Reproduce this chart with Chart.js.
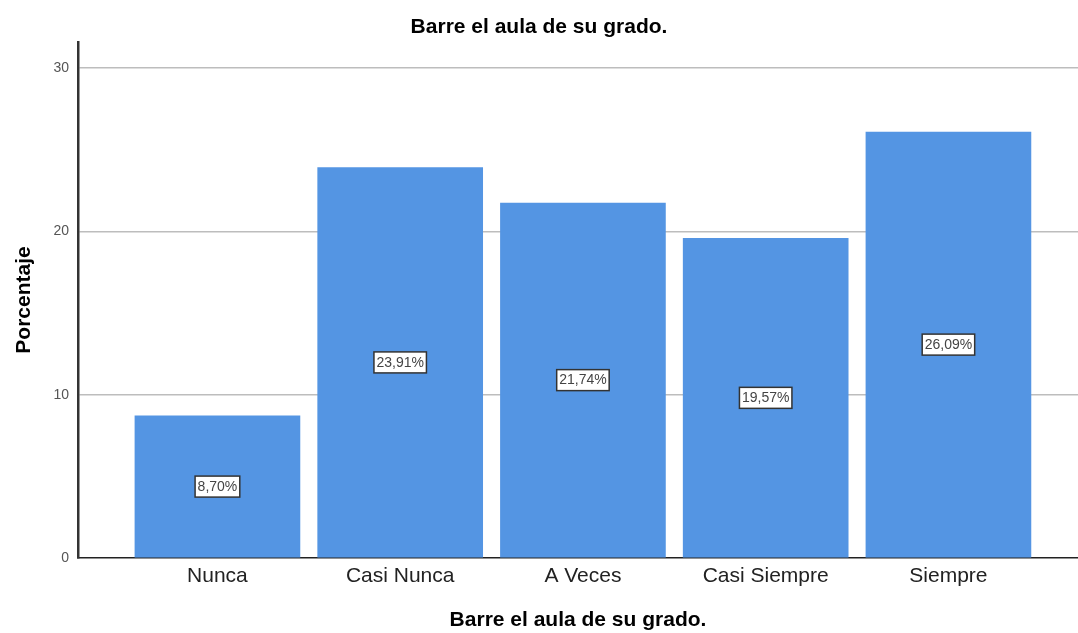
<!DOCTYPE html>
<html>
<head>
<meta charset="utf-8">
<script src="https://cdn.jsdelivr.net/npm/chart.js@4/dist/chart.umd.min.js"></script>
<style>
    html, body { margin: 0; padding: 0; background: #fff; }
    #wrap { width: 1078px; height: 633px; position: relative; }
</style>
</head>
<body>
<div id="wrap"><canvas id="barChart"></canvas></div>
<script>
// Data
const categories = ['Nunca', 'Casi Nunca', 'A Veces', 'Casi Siempre', 'Siempre'];
const percentages = [8.70, 23.91, 21.74, 19.57, 26.09];
const yTicks = [0, 10, 20, 30];

const barColor = '#5495e3';
const fontFamily = 'Arial, "Liberation Sans", sans-serif';

// white boxed percentage label in the middle of each bar
const boxLabels = {
    id: 'boxLabels',
    afterDatasetsDraw(chart) {
        const ctx = chart.ctx;
        const meta = chart.getDatasetMeta(0);
        ctx.save();
        ctx.font = '14px ' + fontFamily;
        ctx.textAlign = 'center';
        ctx.textBaseline = 'middle';
        meta.data.forEach((bar, i) => {
            const text = percentages[i].toFixed(2).replace('.', ',') + '%';
            const cx = bar.x;
            const cy = (bar.y + bar.base) / 2;
            const w = ctx.measureText(text).width + 5;
            const h = 21;
            ctx.fillStyle = '#fff';
            ctx.fillRect(cx - w / 2, cy - h / 2, w, h);
            ctx.strokeStyle = '#333';
            ctx.lineWidth = 1.5;
            ctx.strokeRect(cx - w / 2, cy - h / 2, w, h);
            ctx.fillStyle = '#444';
            ctx.fillText(text, cx, cy + 0.5);
        });
        ctx.restore();
    }
};

new Chart(document.getElementById('barChart'), {
    type: 'bar',
    data: {
        datasets: [{
            data: percentages.map((v, i) => ({ x: i, y: v })),
            backgroundColor: barColor,
            borderWidth: 0,
            barThickness: 165
        }]
    },
    options: {
        responsive: true,
        maintainAspectRatio: false,
        animation: false,
        layout: { padding: 0 },
        plugins: {
            legend: { display: false },
            tooltip: { enabled: false },
            title: {
                display: true,
                text: 'Barre el aula de su grado.',
                color: '#000',
                font: { family: fontFamily, size: 21, weight: 'bold' },
                padding: { top: 14.5, bottom: 2.3 }
            }
        },
        scales: {
            x: {
                type: 'linear',
                offset: false,
                min: -0.763,
                max: 4.709,
                afterBuildTicks(scale) {
                    scale.ticks = categories.map((c, i) => ({ value: i }));
                },
                afterFit(scale) { scale.height = 75; },
                grid: { display: false, drawTicks: false },
                border: { display: true, color: '#222', width: 1.5 },
                ticks: {
                    padding: 6,
                    color: '#222',
                    font: { family: fontFamily, size: 21 },
                    callback: (value) => categories[value] ?? ''
                },
                title: {
                    display: true,
                    text: 'Barre el aula de su grado.',
                    color: '#000',
                    font: { family: fontFamily, size: 21, weight: 'bold' },
                    padding: { top: 0, bottom: 0 }
                }
            },
            y: {
                min: 0,
                max: 31.6,
                afterBuildTicks(scale) {
                    scale.ticks = yTicks.map(v => ({ value: v }));
                },
                afterFit(scale) { scale.width = 78; },
                grid: {
                    drawTicks: false,
                    lineWidth: 1.5,
                    color: (c) => c.tick && c.tick.value === 0 ? 'rgba(0,0,0,0)' : '#bdbdbd'
                },
                border: { display: true, color: '#333', width: 2.5 },
                ticks: {
                    padding: 9,
                    color: '#555',
                    font: { family: fontFamily, size: 14 }
                },
                title: {
                    display: true,
                    text: 'Porcentaje',
                    color: '#000',
                    font: { family: fontFamily, size: 21, weight: 'bold' },
                    padding: { top: 12, bottom: 0 }
                }
            }
        }
    },
    plugins: [boxLabels]
});
</script>
</body>
</html>
